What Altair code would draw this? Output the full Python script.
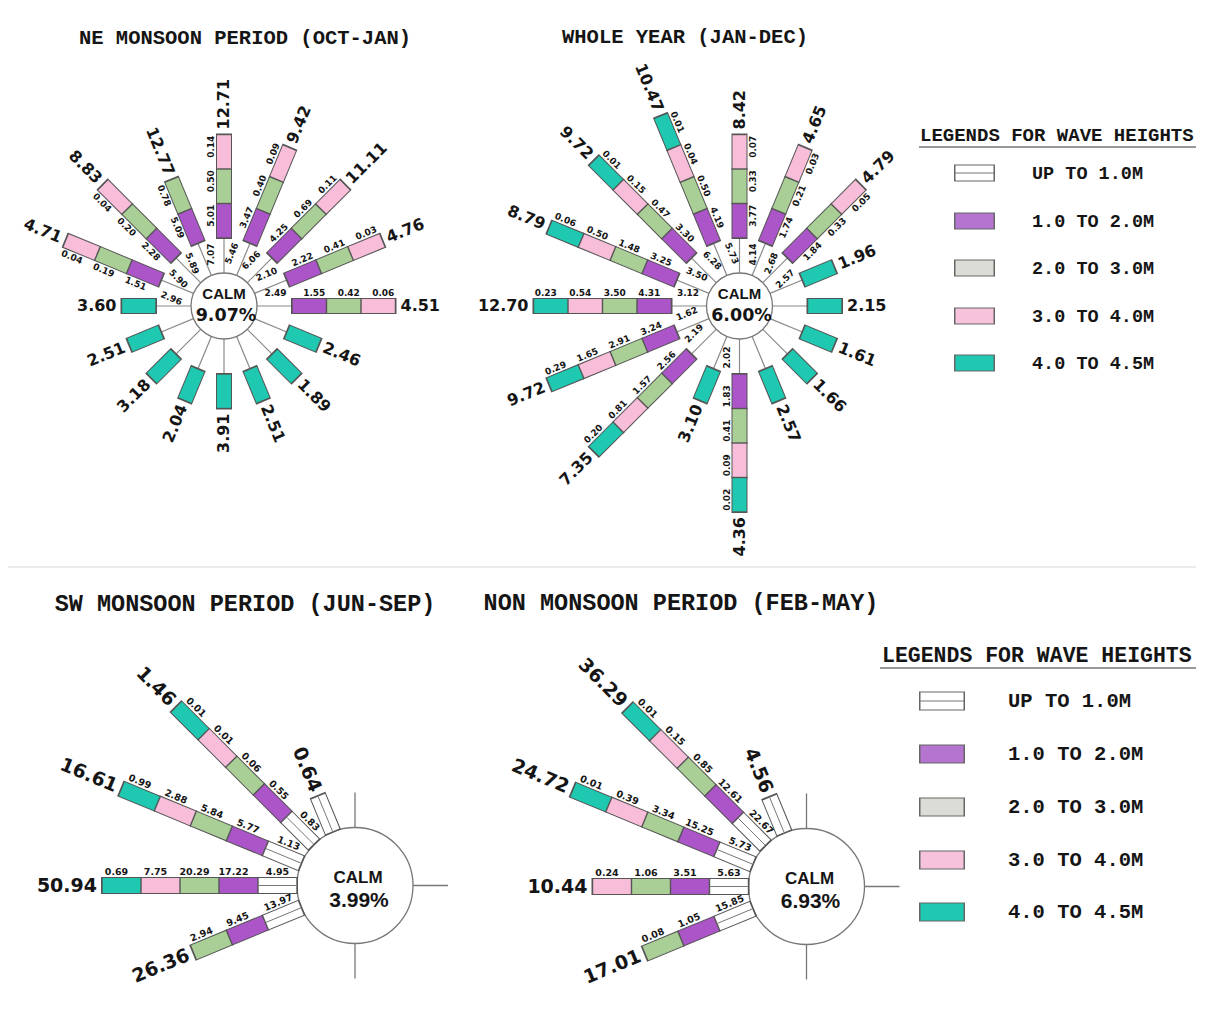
import math
import pandas as pd
import altair as alt

# ---------------------------------------------------------------- data
DIRECTIONS = ["N", "NNE", "NE", "ENE", "E", "ESE", "SE", "SSE",
              "S", "SSW", "SW", "WSW", "W", "WNW", "NW", "NNW"]
CLASSES = ["UP TO 1.0M", "1.0 TO 2.0M", "2.0 TO 3.0M", "3.0 TO 4.0M", "4.0 TO 4.5M"]
N = None

NE_TITLE = "NE MONSOON PERIOD (OCT-JAN)"
NE_CALM = "9.07%"
NE_DIRS = DIRECTIONS
NE_TOTAL = [12.71, 9.42, 11.11, 4.76, 4.51, 2.46, 1.89, 2.51, 3.91, 2.04, 3.18, 2.51, 3.60, 4.71, 8.83, 12.77]
NE_UP1 = [7.07, 5.46, 6.06, 2.10, 2.49, N, N, N, N, N, N, N, N, 2.96, 5.90, 5.89]
NE_H12 = [5.01, 3.47, 4.25, 2.22, 1.55, N, N, N, N, N, N, N, N, 1.51, 2.28, 5.09]
NE_H23 = [0.50, 0.40, 0.69, 0.41, 0.42, N, N, N, N, N, N, N, N, 0.19, 0.20, 0.78]
NE_H34 = [0.14, 0.09, 0.11, 0.03, 0.06, N, N, N, N, N, N, N, N, 0.04, 0.04, N]
NE_H45 = [N] * 16

WY_TITLE = "WHOLE YEAR (JAN-DEC)"
WY_CALM = "6.00%"
WY_DIRS = DIRECTIONS
WY_TOTAL = [8.42, 4.65, 4.79, 1.96, 2.15, 1.61, 1.66, 2.57, 4.36, 3.10, 7.35, 9.72, 12.70, 8.79, 9.72, 10.47]
WY_UP1 = [4.14, 2.68, 2.57, N, N, N, N, N, 2.02, N, 2.19, 1.62, 3.12, 3.50, 6.28, 5.73]
WY_H12 = [3.77, 1.74, 1.84, N, N, N, N, N, 1.83, N, 2.56, 3.24, 4.31, 3.25, 3.30, 4.19]
WY_H23 = [0.33, 0.21, 0.33, N, N, N, N, N, 0.41, N, 1.57, 2.91, 3.50, 1.48, 0.47, 0.50]
WY_H34 = [0.07, 0.03, 0.05, N, N, N, N, N, 0.09, N, 0.81, 1.65, 0.54, 0.50, 0.15, 0.04]
WY_H45 = [N, N, N, N, N, N, N, N, 0.02, N, 0.20, 0.29, 0.23, 0.06, 0.01, 0.01]

SW_TITLE = "SW MONSOON PERIOD (JUN-SEP)"
SW_CALM = "3.99%"
SW_DIRS = ["WSW", "W", "WNW", "NW", "NNW"]
SW_TOTAL = [26.36, 50.94, 16.61, 1.46, 0.64]
SW_UP1 = [13.97, 4.95, 1.13, 0.83, 0.64]
SW_H12 = [9.45, 17.22, 5.77, 0.55, N]
SW_H23 = [2.94, 20.29, 5.84, 0.06, N]
SW_H34 = [N, 7.75, 2.88, 0.01, N]
SW_H45 = [N, 0.69, 0.99, 0.01, N]

NM_TITLE = "NON MONSOON PERIOD (FEB-MAY)"
NM_CALM = "6.93%"
NM_DIRS = ["WSW", "W", "WNW", "NW", "NNW"]
NM_TOTAL = [17.01, 10.44, 24.72, 36.29, 4.56]
NM_UP1 = [15.85, 5.63, 5.73, 22.67, 4.56]
NM_H12 = [1.05, 3.51, 15.25, 12.61, N]
NM_H23 = [0.08, 1.06, 3.34, 0.85, N]
NM_H34 = [N, 0.24, 0.39, 0.15, N]
NM_H45 = [N, N, 0.01, 0.01, N]

LEGEND_TITLE = "LEGENDS FOR WAVE HEIGHTS"

PANELS = {
    "NE": dict(title=NE_TITLE, calm=NE_CALM, dirs=NE_DIRS, total=NE_TOTAL,
               cls=[NE_UP1, NE_H12, NE_H23, NE_H34, NE_H45]),
    "WY": dict(title=WY_TITLE, calm=WY_CALM, dirs=WY_DIRS, total=WY_TOTAL,
               cls=[WY_UP1, WY_H12, WY_H23, WY_H34, WY_H45]),
    "SW": dict(title=SW_TITLE, calm=SW_CALM, dirs=SW_DIRS, total=SW_TOTAL,
               cls=[SW_UP1, SW_H12, SW_H23, SW_H34, SW_H45]),
    "NM": dict(title=NM_TITLE, calm=NM_CALM, dirs=NM_DIRS, total=NM_TOTAL,
               cls=[NM_UP1, NM_H12, NM_H23, NM_H34, NM_H45]),
}

# ---------------------------------------------------------------- layout / style
W, H = 1188, 995
X0, Y0 = 8, 8
CLASS_COLORS = ["#ffffff", "#ab55c8", "#a9cf96", "#f7bdd9", "#1fc8b1"]
LEGEND_COLORS = ["#ffffff", "#b574cf", "#dcdcd6", "#f7c2dc", "#1fc8b1"]
BORDER = "#555555"
TEXT = "#151515"

LAYOUT = {
    "NE": dict(cx=224, cy=306, tx=245, ty=38, kind="top", side=-1),
    "WY": dict(cx=739.5, cy=306, tx=685, ty=37, kind="top", side=1),
    "SW": dict(cx=355, cy=885.5, tx=245, ty=604, kind="bottom", side=1),
    "NM": dict(cx=806.5, cy=886.5, tx=681, ty=603, kind="bottom", side=1),
}
STYLE = {
    "top": dict(calm_r=33, start=68, seg=34.5, bw=14, tot_fs=16, small_fs=9,
                calm_fs=15, pct_fs=17.5, calm_dy=-12, pct_dy=10, title_fs=20.5, lbl_off=13,
                pct_font="DejaVu Sans"),
    "bottom": dict(calm_r=58, start=58, seg=39, bw=15, tot_fs=19, small_fs=9.5,
                   calm_fs=17, pct_fs=21, calm_dy=-8, pct_dy=15, title_fs=23.5, lbl_off=13.5,
                   pct_font="Liberation Sans"),
}
LEGENDS = [
    dict(tx=920, ty=135, tfs=19, ux1=919, ux2=1196, uy=147, sx1=955, sx2=994, sh=15,
         ys=[173, 221, 268, 316, 363], lx=1032, lfs=18.5),
    dict(tx=882, ty=656, tfs=21.5, ux1=880, ux2=1196, uy=668, sx1=920, sx2=964, sh=17,
         ys=[701, 754, 807, 860, 912], lx=1008, lfs=20.5),
]


def P(cx, cy, b, r):
    t = math.radians(b)
    return cx + r * math.sin(t), cy - r * math.cos(t)


def rule_row(cx, cy, b, ra, rb, color, width):
    x1, y1 = P(cx, cy, b, ra)
    x2, y2 = P(cx, cy, b, rb)
    return dict(x1=x1, y1=y1, x2=x2, y2=y2, c=color, w=width)


def text_angle(b):
    a = b - 90 if b < 180 else b - 270
    return a % 360


under, borders, fills, overlines = [], [], [], []
small, tot_l, tot_r, circles, calm_txt, titles = [], [], [], [], [], []
pct_dv, pct_lib = [], []

for key, p in PANELS.items():
    L = LAYOUT[key]
    S = STYLE[L["kind"]]
    cx, cy = L["cx"], L["cy"]
    titles.append(dict(x=L["tx"], y=L["ty"], t=p["title"], fs=S["title_fs"], a=0))
    circles.append(dict(x=cx, y=cy, s=(2 * S["calm_r"]) ** 2))
    calm_txt.append(dict(x=cx + (0 if L["kind"] == "top" else 3), y=cy + S["calm_dy"], t="CALM", fs=S["calm_fs"], a=0))
    prow = dict(x=cx + (2 if L["kind"] == "top" else 4), y=cy + S["pct_dy"], t=p["calm"], fs=S["pct_fs"], a=0)
    (pct_dv if S["pct_font"] == "DejaVu Sans" else pct_lib).append(prow)
    if L["kind"] == "bottom":
        for b in (0, 90, 180):
            under.append(rule_row(cx, cy, b, S["calm_r"], S["calm_r"] + 35, "#777777", 1.3))
    for i, d in enumerate(p["dirs"]):
        b = DIRECTIONS.index(d) * 22.5
        vals = [p["cls"][k][i] for k in range(5)]
        present = [k for k in range(5) if vals[k] is not None]
        segs = []
        perp = (math.cos(math.radians(b)) * L["side"], math.sin(math.radians(b)) * L["side"])
        ang = text_angle(b)

        def add_label(rmid, txt):
            x, y = P(cx, cy, b, rmid)
            small.append(dict(x=x + perp[0] * S["lbl_off"], y=y + perp[1] * S["lbl_off"],
                              t=txt, fs=S["small_fs"], a=ang))

        if L["kind"] == "top":
            under.append(rule_row(cx, cy, b, S["calm_r"], S["start"], "#8a8a8a", 1.2))
            r = S["start"]
            if not present:
                segs.append((4, r, r + S["seg"], None))
                r += S["seg"]
            for k in present:
                if k == 0:
                    continue
                segs.append((k, r, r + S["seg"], vals[k]))
                r += S["seg"]
            if vals[0] is not None:
                add_label((S["calm_r"] + S["start"]) / 2 + 1, "%.2f" % vals[0])
        else:
            r = S["calm_r"]
            for k in present:
                segs.append((k, r, r + S["seg"], vals[k] if len(present) > 1 else None))
                r += S["seg"]
        r_end = r
        for k, ra, rb, v in segs:
            borders.append(rule_row(cx, cy, b, ra - 1, rb + 1, BORDER, S["bw"] + 2))
            fills.append(rule_row(cx, cy, b, ra + 0.7, rb - 0.7, CLASS_COLORS[k], S["bw"]))
            if k == 0:
                overlines.append(rule_row(cx, cy, b, ra + 0.7, rb - 0.7, "#777777", 1))
            if v is not None:
                shift = 0 if k == 0 else 5
                add_label((ra + rb) / 2 + shift, "%.2f" % v)
        x, y = P(cx, cy, b, r_end + 5)
        row = dict(x=x, y=y, t="%.2f" % p["total"][i], fs=S["tot_fs"], a=ang)
        (tot_l if b < 180 else tot_r).append(row)

leg_txt, leg_title = [], []
for lg in LEGENDS:
    leg_title.append(dict(x=lg["tx"], y=lg["ty"], t=LEGEND_TITLE, fs=lg["tfs"], a=0))
    under.append(dict(x1=lg["ux1"], y1=lg["uy"], x2=lg["ux2"], y2=lg["uy"], c="#777777", w=1.6))
    for k, yy in enumerate(lg["ys"]):
        borders.append(dict(x1=lg["sx1"] - 1, y1=yy, x2=lg["sx2"] + 1, y2=yy, c="#666666", w=lg["sh"] + 2))
        fills.append(dict(x1=lg["sx1"] + 0.5, y1=yy, x2=lg["sx2"] - 0.5, y2=yy, c=LEGEND_COLORS[k], w=lg["sh"]))
        if k == 0:
            overlines.append(dict(x1=lg["sx1"], y1=yy, x2=lg["sx2"], y2=yy, c="#777777", w=1))
        leg_txt.append(dict(x=lg["lx"], y=yy, t=CLASSES[k], fs=lg["lfs"], a=0))

# faint separator between the two halves
under.append(dict(x1=X0, y1=567, x2=X0 + W, y2=567, c="#e4e4e4", w=1.5))

# ---------------------------------------------------------------- chart
XS = alt.Scale(domain=[X0, X0 + W], nice=False, zero=False)
YS = alt.Scale(domain=[Y0, Y0 + H], nice=False, zero=False, reverse=True)


def rules(rows):
    return alt.Chart(pd.DataFrame(rows)).mark_rule(strokeCap="butt").encode(
        x=alt.X("x1:Q", scale=XS, axis=None),
        y=alt.Y("y1:Q", scale=YS, axis=None),
        x2=alt.X2("x2:Q"), y2=alt.Y2("y2:Q"),
        color=alt.Color("c:N", scale=None),
        strokeWidth=alt.StrokeWidth("w:Q", scale=None),
    )


def texts(rows, align, font, weight="bold"):
    return alt.Chart(pd.DataFrame(rows)).mark_text(
        align=align, baseline="middle", font=font, fontWeight=weight, color=TEXT
    ).encode(
        x=alt.X("x:Q", scale=XS, axis=None),
        y=alt.Y("y:Q", scale=YS, axis=None),
        text=alt.Text("t:N"),
        angle=alt.Angle("a:Q", scale=None),
        size=alt.Size("fs:Q", scale=None),
    )


circle_layer = alt.Chart(pd.DataFrame(circles)).mark_point(
    shape="circle", filled=True, fill="white", stroke="#777777", strokeWidth=1.3, opacity=1
).encode(
    x=alt.X("x:Q", scale=XS, axis=None),
    y=alt.Y("y:Q", scale=YS, axis=None),
    size=alt.Size("s:Q", scale=None),
)

chart = alt.layer(
    rules(under),
    circle_layer,
    rules(borders),
    rules(fills),
    rules(overlines),
    texts(small, "center", "DejaVu Sans"),
    texts(tot_l, "left", "DejaVu Sans"),
    texts(tot_r, "right", "DejaVu Sans"),
    texts(calm_txt, "center", "Liberation Sans"),
    texts(pct_dv, "center", "DejaVu Sans"),
    texts(pct_lib, "center", "Liberation Sans"),
    texts(titles, "center", "Liberation Mono"),
    texts(leg_title, "left", "Liberation Mono"),
    texts(leg_txt, "left", "Liberation Mono"),
).properties(
    width=W, height=H, autosize=alt.AutoSizeParams(type="none"), padding=0
).configure_view(stroke=None)

chart.save("out.html", embed_options={"renderer": "svg", "actions": False})
